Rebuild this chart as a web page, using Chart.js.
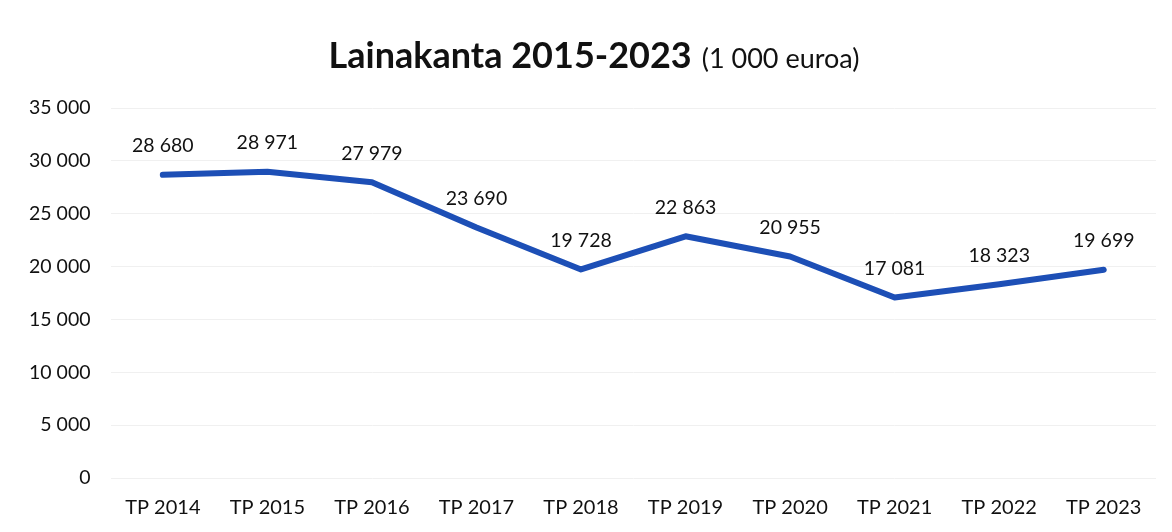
<!DOCTYPE html>
<html><head><meta charset="utf-8">
<script src="https://cdn.jsdelivr.net/npm/chart.js@4"></script>
<style>html,body{margin:0;padding:0;background:#fff}#wrap{width:1172px;height:532px}</style>
</head><body><div id="wrap"><canvas id="c" width="1172" height="532"></canvas></div>
<script>
const categories = ["TP 2014","TP 2015","TP 2016","TP 2017","TP 2018","TP 2019","TP 2020","TP 2021","TP 2022","TP 2023"];
const lainakanta = [28680, 28971, 27979, 23690, 19728, 22863, 20955, 17081, 18323, 19699];
const titleMain = "Lainakanta 2015-2023";
const titleUnit = "(1 000 euroa)";
const FONT = "Lato, 'Open Sans', sans-serif";
const fmt = v => String(Math.round(v)).replace(/\B(?=(\d{3})+(?!\d))/g, " ");

const titlePlugin = {
  id: 'mixedTitle',
  afterDraw(chart) {
    const ctx = chart.ctx;
    ctx.save();
    ctx.textBaseline = 'alphabetic';
    ctx.fillStyle = '#111';
    ctx.font = "bold 36px " + FONT;
    const w1 = ctx.measureText(titleMain).width;
    ctx.font = "27px " + FONT;
    const w2 = ctx.measureText(titleUnit).width;
    const gap = 10;
    const total = w1 + gap + w2;
    const x0 = 594 - total / 2;
    const y = 68;
    ctx.textAlign = 'left';
    ctx.font = "bold 36px " + FONT;
    ctx.fillText(titleMain, x0, y);
    ctx.font = "27px " + FONT;
    ctx.fillText(titleUnit, x0 + w1 + gap, y);
    ctx.restore();
  }
};

const labelPlugin = {
  id: 'pointLabels',
  afterDatasetsDraw(chart) {
    const ctx = chart.ctx;
    const meta = chart.getDatasetMeta(0);
    ctx.save();
    ctx.font = "19.5px " + FONT;
    ctx.fillStyle = '#111';
    ctx.textAlign = 'center';
    ctx.textBaseline = 'middle';
    meta.data.forEach((pt, i) => {
      ctx.fillText(fmt(chart.data.datasets[0].data[i]), pt.x, pt.y - 29);
    });
    ctx.restore();
  }
};

new Chart(document.getElementById('c'), {
  type: 'line',
  data: {
    labels: categories,
    datasets: [{
      data: lainakanta,
      borderColor: '#1d4fb6',
      borderWidth: 6,
      pointRadius: 0,
      tension: 0,
      borderCapStyle: 'round',
      borderJoinStyle: 'round'
    }]
  },
  options: {
    responsive: false,
    animation: false,
    layout: { padding: { top: 108, left: 9, right: 16, bottom: 2 } },
    plugins: { legend: { display: false }, tooltip: { enabled: false } },
    scales: {
      x: {
        offset: true,
        grid: { display: false },
        border: { display: false },
        ticks: { color: '#111', font: { family: FONT, size: 20 }, padding: 10 }
      },
      y: {
        min: 0, max: 35000,
        ticks: { stepSize: 5000, color: '#111', font: { family: FONT, size: 19.5 }, padding: 20, callback: v => fmt(v) },
        grid: { color: '#f0f0f0', lineWidth: 1, drawTicks: false },
        border: { display: false }
      }
    }
  },
  plugins: [titlePlugin, labelPlugin]
});
</script></body></html>
